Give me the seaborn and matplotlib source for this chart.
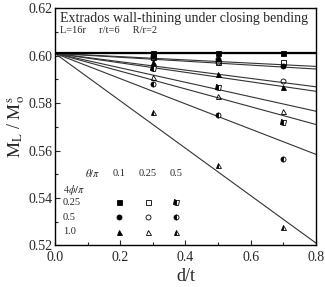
import pandas as pd
import seaborn as sns
import matplotlib.pyplot as plt
from matplotlib.ticker import MultipleLocator, FormatStrFormatter

# d/t where the FE results sit
dt = [0.3, 0.5, 0.7]

# series keyed by (theta/pi, 4phi/pi)
thetaVals = ["0.1", "0.25", "0.5"]
phiVals = ["0.25", "0.5", "1.0"]

ml_01_025 = [0.601, 0.601, 0.601]
ml_01_05 = [0.6000, 0.5985, 0.5958]
ml_01_10 = [0.5972, 0.5925, 0.5869]
ml_025_025 = [0.5995, 0.5975, 0.5972]
ml_025_05 = [0.5990, 0.5972, 0.5895]
ml_025_10 = [0.5910, 0.5829, 0.5766]
ml_05_025 = [0.5948, 0.5867, 0.5721]
ml_05_05 = [0.5881, 0.5748, 0.5563]
ml_05_10 = [0.5762, 0.5539, 0.5276]

# fitted lines: start value at d/t=0, end value at d/t=0.8
lineStart = 0.601
lineEnd = [0.601, 0.5955, 0.5850, 0.5944, 0.5869, 0.5766, 0.5710, 0.5584, 0.521]

series = [ml_01_025, ml_01_05, ml_01_10,
          ml_025_025, ml_025_05, ml_025_10,
          ml_05_025, ml_05_05, ml_05_10]

sns.set_style("ticks")
plt.rcParams['font.family'] = ['Liberation Serif', 'DejaVu Serif']
plt.rcParams['mathtext.fontset'] = 'stix'

fig = plt.figure(figsize=(3.25, 2.87), dpi=100)
ax = fig.add_axes([0.169, 0.145, 0.803, 0.826])

markerOf = {"0.25": "s", "0.5": "o", "1.0": "^"}
fillOf = {"0.1": "full", "0.25": "none", "0.5": "left"}

lines = []
for i, end in enumerate(lineEnd):
    lines.append(pd.DataFrame({"x": [0.0, 0.8], "y": [lineStart, end], "id": i}))
linesDf = pd.concat(lines)
sns.lineplot(data=linesDf, x="x", y="y", units="id", estimator=None,
             color="#333333", lw=0.8, ax=ax, legend=False)
ax.plot([0.0, 0.8], [lineStart, lineEnd[0]], color="black", lw=1.6)

k = 0
for th in thetaVals:
    for ph in phiVals:
        ax.plot(dt, series[k], ls="none", marker=markerOf[ph], ms=3.6,
                fillstyle=fillOf[th], color="black", markerfacecoloralt="white",
                mew=0.6, markeredgecolor="black")
        k += 1

# in-plot key
tKeyX = [0.196, 0.285, 0.371]
rowY = [0.5381, 0.5318, 0.5258]
ax.text(0.117, 0.5505, r"$\theta/\pi$", fontsize=7.5, ha="center", va="center")
for x, th in zip(tKeyX, thetaVals):
    ax.text(x, 0.5505, th, fontsize=7.5, ha="center", va="center")
ax.text(0.024, 0.5432, r"$4\phi/\pi$", fontsize=7.5, ha="left", va="center")
for y, ph in zip(rowY, phiVals):
    ax.text(0.024, y, ph, fontsize=7.5, ha="left", va="center")
    for x, th in zip(tKeyX, thetaVals):
        ax.plot(x, y, ls="none", marker=markerOf[ph], ms=3.6, fillstyle=fillOf[th],
                color="black", markerfacecoloralt="white", mew=0.6, markeredgecolor="black")

ax.text(0.015, 0.6155, "Extrados wall-thining under closing bending", fontsize=10,
        ha="left", va="center")
ax.text(0.015, 0.6108, "L=16r     r/t=6     R/r=2", fontsize=7.5, ha="left", va="center")

ax.set_xlim(0.0, 0.8)
ax.set_ylim(0.52, 0.62)
ax.xaxis.set_major_locator(MultipleLocator(0.2))
ax.xaxis.set_minor_locator(MultipleLocator(0.1))
ax.yaxis.set_major_locator(MultipleLocator(0.02))
ax.yaxis.set_minor_locator(MultipleLocator(0.01))
ax.xaxis.set_major_formatter(FormatStrFormatter("%.1f"))
ax.yaxis.set_major_formatter(FormatStrFormatter("%.2f"))
ax.tick_params(which="both", direction="in", labelsize=10, width=0.8)
ax.tick_params(which="major", length=3.5)
ax.tick_params(axis="x", which="major", pad=4)
ax.tick_params(axis="y", which="major", pad=2)
ax.tick_params(which="minor", length=2)
for s in ax.spines.values():
    s.set_linewidth(1.0)
    s.set_color("black")

ax.set_xlabel("d/t", fontsize=13, labelpad=3)
ax.set_ylabel(r"$\mathrm{M_L}$ / $\mathrm{M_o^s}$", fontsize=13, labelpad=1)

fig.savefig("out.png", dpi=100)
